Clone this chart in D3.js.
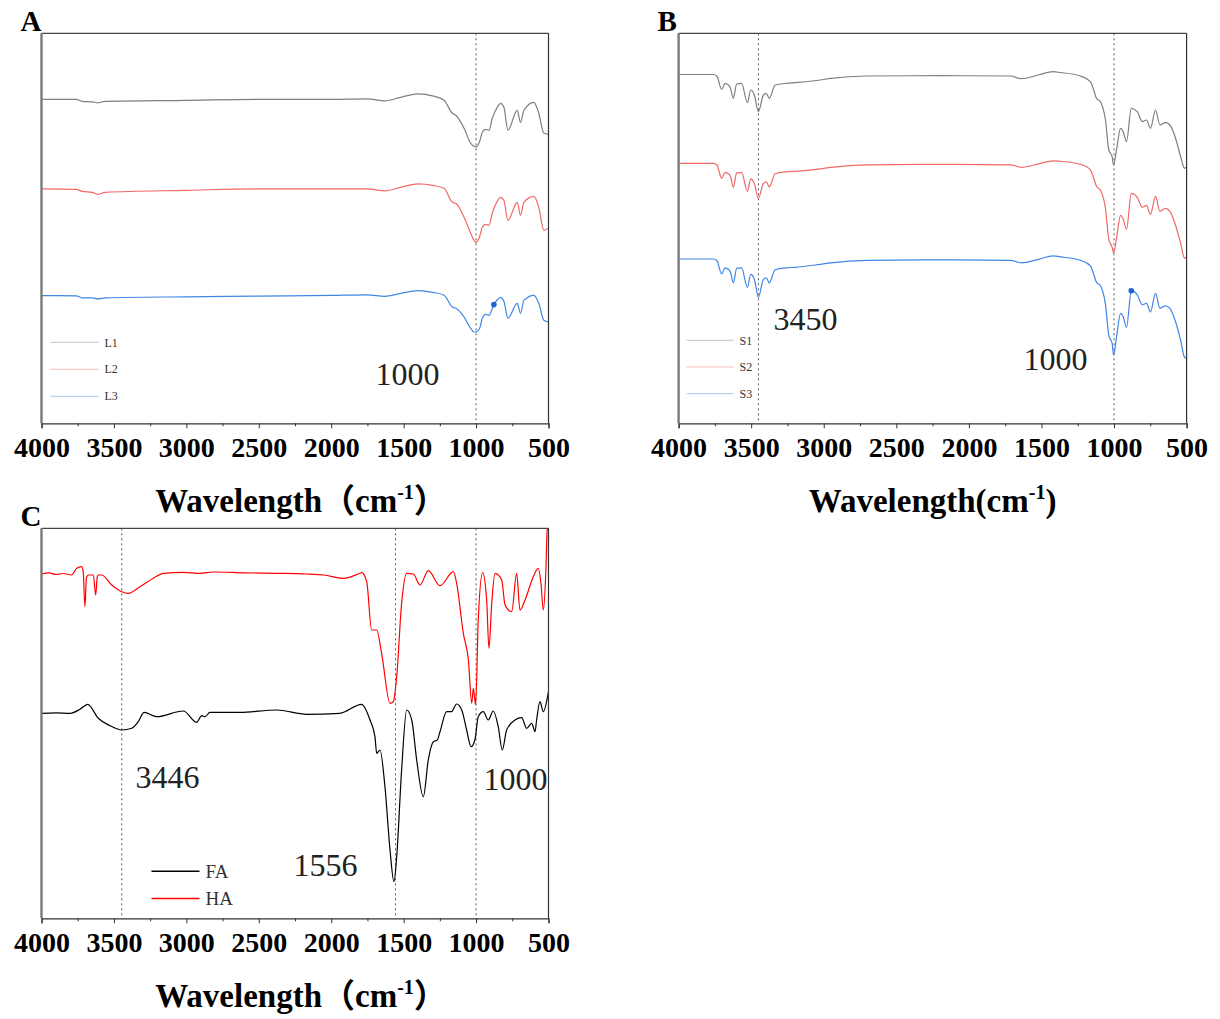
<!DOCTYPE html>
<html>
<head>
<meta charset="utf-8">
<script src="https://cdn.jsdelivr.net/npm/d3@7"></script>
<style>
  body { margin: 0; background: #fff; }
  svg { display: block; }
</style>
</head>
<body>
<div id="chart"></div>
<script>
// FTIR spectra, wavenumber (cm-1) vs. transmittance (a.u.)
var svgWidth = 1220;
var svgHeight = 1019;

// ---- data: [wavenumber, intensity a.u.] ----
var wnTicks = [4000, 3500, 3000, 2500, 2000, 1500, 1000, 500];
var wnMinor = [3750, 3250, 2750, 2250, 1750, 1250, 750];

var L1 = [[4000,324],[3760,324],[3720,322],[3650,321.5],[3610,320.5],[3560,322],[3000,323],[2500,324],
  [2000,324],[1750,324.5],[1630,322.5],[1520,326],[1400,329.5],[1300,327.5],[1221,323],[1164,310],[1140,308],
  [1083,295],[1037,280],[1014,277],[998,276.5],[975,282],[957,291],[935,294],[911,293],[888,305],[850,317],
  [831,320],[808,316],[780,293],[716,313],[693,301],[670,313],[601,321],[567,310],[532,290],[500,289]];
var L2 = [[4000,234.5],[3760,234],[3720,232],[3650,231],[3610,229],[3560,231],[3000,233],[2500,234.5],
  [2000,234.5],[1750,234.5],[1630,232.5],[1520,236],[1400,239.5],[1300,238],[1221,235],[1164,221],[1140,220],
  [1083,206],[1037,190],[1014,183],[998,181],[975,187],[957,196],[935,199],[911,198],[888,210],[850,223],
  [831,226],[808,223],[780,203],[716,221],[693,208],[670,221],[601,227],[567,216],[532,193],[500,195]];
var L3 = [[4000,127.7],[3760,127.5],[3720,125.5],[3650,125.5],[3610,124.5],[3560,125.5],[3000,126.5],[2500,127.2],
  [2000,128],[1750,128.5],[1630,127],[1520,130],[1400,132.7],[1300,131],[1221,128],[1164,116.3],[1140,115],
  [1083,106.3],[1037,95],[1014,91.3],[998,91.5],[975,95],[957,105],[935,109],[911,108],[877,118.7],[850,124],
  [831,126],[808,122],[780,105],[716,120],[693,110],[670,123],[601,128],[567,120],[532,103],[500,101.3]];
var markA = [[877, 118.7]];

var S1 = [[4000,348.8],[3760,348.8],[3737,347.3],[3703,334],[3680,340],[3646,336.6],[3623,325],[3600,339.3],
  [3566,340],[3526,320.6],[3503,333.3],[3478,328.3],[3450,311.6],[3416,328.3],[3397,330],[3375,325],[3335,338.3],
  [3255,340],[3198,340.6],[3025,343.3],[2950,345],[2703,347.3],[2208,347.6],[1713,347.3],[1640,344.6],[1520,348.3],
  [1420,351.6],[1370,350.8],[1232,347.3],[1163,341.6],[1140,333.3],[1121,325],[1094,321.6],[1059,303.3],
  [1036,273.3],[1013,266.6],[1003,258.3],[983,273.3],[955,295],[937,291.6],[914,281.6],[881,315],[840,311.6],
  [805,301.6],[776,303.3],[749,295],[714,313.3],[684,298.3],[645,300.6],[615,298.3],[576,285],[541,266.6],
  [514,255],[500,256.6]];
var S2 = [[4000,260],[3760,260],[3737,258.5],[3703,245],[3680,251],[3646,248],[3623,236],[3600,250.5],
  [3566,251],[3526,232],[3503,244.5],[3478,239.5],[3450,225],[3416,240],[3397,241.5],[3375,236.5],[3335,249.5],
  [3255,251.5],[3198,252],[3025,254.5],[2950,256],[2703,258.5],[2208,259],[1713,258.5],[1640,256],[1520,259.5],
  [1420,262.5],[1370,262],[1232,259],[1163,253.5],[1140,245],[1121,237],[1094,233],[1059,215],
  [1036,184],[1013,176],[1003,170],[983,185],[955,208],[937,204],[914,194],[881,230],[840,226],
  [805,216],[776,218],[749,209],[714,227],[684,212],[645,215],[615,212],[576,198],[541,180],
  [514,165],[500,167]];
var S3 = [[4000,164.3],[3760,164.3],[3737,162.8],[3703,149.5],[3680,155.5],[3646,152.5],[3623,140.5],[3600,155],
  [3566,155.5],[3526,136],[3503,149],[3478,144],[3450,126],[3416,144],[3397,145.5],[3375,140.5],[3335,153.5],
  [3255,155.5],[3198,156],[3025,159],[2950,160.5],[2703,163],[2208,163.5],[1713,163],[1640,160.5],[1520,164],
  [1420,167.5],[1370,166.5],[1232,163],[1163,157.5],[1140,149],[1121,141],[1094,137.5],[1059,119],
  [1036,88],[1013,80],[1003,68.3],[983,86],[955,110],[937,106.5],[914,96],[881,132.6],[840,128.5],
  [805,118.5],[776,120],[749,111.5],[714,130],[684,115],[645,117.5],[615,115],[576,101.5],[541,83],
  [514,66],[500,65]];
var markB = [[881, 132.6]];

var HA = [[4000,344.3],[3950,345.5],[3900,343.8],[3850,344.8],[3792,343.3],[3757,350],[3723,351.6],[3712,346.3],
  [3700,311.6],[3690,340.3],[3677,343.3],[3642,343.3],[3626,323.3],[3615,341.3],[3608,343.3],[3585,343.3],
  [3515,333.3],[3446,326.6],[3400,325],[3320,331.6],[3228,340],[3159,345],[3021,346],[2906,345],[2814,346.3],
  [2600,345.5],[2400,345],[2169,344.3],[2050,343.3],[1917,340],[1802,345],[1790,345.6],[1755,336.6],[1721,288.3],
  [1686,288.3],[1652,265],[1594,215],[1571,216.6],[1548,241.6],[1514,315],[1479,345],[1433,344.3],[1387,333.3],
  [1330,347.6],[1249,332.6],[1157,346.6],[1134,335],[1088,285],[1053,258.3],[1030,215],[1019,230],[1003,213.3],
  [985,298.3],[955,345.6],[927,318.3],[911,270],[892,315],[869,345],[823,338.3],[800,313.3],[754,306.6],
  [720,345],[697,308.3],[662,318.3],[605,341.6],[571,350],[552,335],[536,308.3],[518,348.3],[509,388.3],[500,390]];
var FA = [[4000,205],[3900,205.5],[3803,205],[3734,209],[3681,214],[3608,200],[3527,192.6],[3446,188.3],
  [3377,190],[3332,196.6],[3292,206],[3205,201.6],[3021,207.3],[2929,196],[2894,202.6],[2871,201.6],[2837,206],
  [2630,206],[2377,208.3],[2169,204],[1940,205],[1790,214],[1732,198.3],[1698,181.6],[1686,165],[1663,168.3],
  [1629,131.6],[1594,68.3],[1567,36.6],[1548,61.6],[1514,148.3],[1479,208.3],[1444,198.3],[1410,158.3],
  [1364,121.6],[1330,158.3],[1295,176.6],[1268,178.3],[1249,186.6],[1203,206.6],[1169,206.6],[1134,214.3],
  [1099,208.3],[1065,188.3],[1035,171.6],[1008,178.3],[985,201.6],[950,206.6],[916,198.3],[881,207.3],
  [847,191.6],[819,168.3],[789,188.3],[731,198.3],[685,200.6],[651,190],[616,195],[593,186.6],[582,198.3],
  [559,216.6],[536,206.6],[500,226.6]];

var serif = "'Liberation Serif', 'Times New Roman', 'Noto Sans CJK SC', serif";

var panels = [
  { id: "A", x: 41.5, y: 33.3, w: 507, h: 390, fullParen: true,
    series: [
      { name: "L1", data: L1, color: "#7f7f7f" },
      { name: "L2", data: L2, color: "#f06868" },
      { name: "L3", data: L3, color: "#3f86e6" }],
    marks: markA,
    vlines: [1000],
    notes: [{ t: "1000", x: 334, y: 352 }],
    legend: { x: 9, y: 309, dy: 27, len: 48, size: 12, light: true } },
  { id: "B", x: 678.6, y: 33.3, w: 508, h: 390, fullParen: false,
    series: [
      { name: "S1", data: S1, color: "#7f7f7f" },
      { name: "S2", data: S2, color: "#f06868" },
      { name: "S3", data: S3, color: "#3f86e6" }],
    marks: markB,
    vlines: [3450, 1000],
    notes: [{ t: "3450", x: 95, y: 297 }, { t: "1000", x: 345, y: 337 }],
    legend: { x: 8, y: 307, dy: 26.7, len: 47, size: 12, light: true } },
  { id: "C", x: 41.5, y: 528.3, w: 507, h: 390, fullParen: true,
    series: [
      { name: "FA", data: FA, color: "#000000" },
      { name: "HA", data: HA, color: "#ff0000" }],
    marks: [],
    vlines: [3446, 1556, 1000],
    notes: [{ t: "3446", x: 94, y: 260 }, { t: "1556", x: 252, y: 348 }, { t: "1000", x: 442, y: 262 }],
    legend: { x: 110, y: 343, dy: 27.3, len: 48, size: 19, light: false } }
];

var svg = d3.select("#chart")
  .append("svg")
  .attr("width", svgWidth)
  .attr("height", svgHeight);

panels.forEach(function(p) {
  var g = svg.append("g").attr("transform", `translate(${p.x}, ${p.y})`);

  var xScale = d3.scaleLinear().domain([4000, 500]).range([0, p.w]);
  var yScale = d3.scaleLinear().domain([0, 390]).range([p.h, 0]);

  // dotted reference lines
  g.selectAll(".vline")
    .data(p.vlines)
    .enter()
    .append("line")
    .attr("x1", d => xScale(d))
    .attr("x2", d => xScale(d))
    .attr("y1", 0)
    .attr("y2", p.h)
    .attr("stroke", "#555")
    .attr("stroke-width", 1)
    .attr("stroke-dasharray", "2,3");

  // spectra
  var line = d3.line()
    .x(d => xScale(d[0]))
    .y(d => yScale(d[1]))
    .curve(d3.curveMonotoneX);

  p.series.forEach(function(s) {
    g.append("path")
      .datum(s.data)
      .attr("fill", "none")
      .attr("stroke", s.color)
      .attr("stroke-width", 1.2)
      .attr("stroke-linejoin", "round")
      .attr("d", line);
  });

  g.selectAll(".mark")
    .data(p.marks)
    .enter()
    .append("circle")
    .attr("cx", d => xScale(d[0]))
    .attr("cy", d => yScale(d[1]))
    .attr("r", 2.8)
    .attr("fill", "#1f62d6");

  // frame: left thicker gray, others thin
  g.append("line").attr("x1", 0).attr("x2", p.w).attr("y1", 0).attr("y2", 0)
    .attr("stroke", "#444").attr("stroke-width", 1.2);
  g.append("line").attr("x1", p.w).attr("x2", p.w).attr("y1", 0).attr("y2", p.h)
    .attr("stroke", "#333").attr("stroke-width", 1.2);
  g.append("line").attr("x1", 0).attr("x2", 0).attr("y1", 0).attr("y2", p.h)
    .attr("stroke", "#7a7a7a").attr("stroke-width", 2.4);

  // x axis
  var axis = d3.axisBottom(xScale)
    .tickValues(wnTicks)
    .tickSize(5)
    .tickFormat(d3.format("d"));
  var ax = g.append("g")
    .attr("transform", `translate(0, ${p.h})`)
    .call(axis);
  ax.select(".domain").attr("stroke", "#333").attr("stroke-width", 1.2);
  ax.selectAll(".tick line").attr("stroke", "#333");
  ax.selectAll("text")
    .attr("y", 33.5)
    .attr("dy", 0)
    .attr("fill", "#000")
    .style("font-family", serif)
    .style("font-weight", "bold")
    .style("font-size", "28px");

  var minorAxis = d3.axisBottom(xScale)
    .tickValues(wnMinor)
    .tickSize(3)
    .tickFormat("");
  var mx = g.append("g")
    .attr("transform", `translate(0, ${p.h})`)
    .call(minorAxis);
  mx.select(".domain").remove();
  mx.selectAll(".tick line").attr("stroke", "#333");

  // axis title
  var title = g.append("text")
    .attr("x", p.w / 2 + (p.fullParen ? 6 : 0))
    .attr("y", p.h + 89)
    .attr("text-anchor", "middle")
    .style("font-family", serif)
    .style("font-weight", "bold")
    .style("font-size", "33px")
    .attr("fill", "#000");
  title.append("tspan").text(p.fullParen ? "Wavelength\uFF08cm" : "Wavelength(cm");
  title.append("tspan").attr("dy", -13).style("font-size", "20px").text("-1");
  title.append("tspan").attr("dy", 13).text(p.fullParen ? "\uFF09" : ")");

  // panel letter
  svg.append("text")
    .attr("x", p.x - 21)
    .attr("y", p.y - 2)
    .style("font-family", serif)
    .style("font-weight", "bold")
    .style("font-size", "29px")
    .attr("fill", "#000")
    .text(p.id);

  // peak annotations
  g.selectAll(".note")
    .data(p.notes)
    .enter()
    .append("text")
    .attr("x", d => d.x)
    .attr("y", d => d.y)
    .style("font-family", serif)
    .style("font-size", "32px")
    .attr("fill", "#222")
    .text(d => d.t);

  // legend
  var lg = g.append("g").attr("transform", `translate(${p.legend.x}, ${p.legend.y})`);
  p.series.forEach(function(s, i) {
    var yy = i * p.legend.dy;
    lg.append("line")
      .attr("x1", 0).attr("x2", p.legend.len)
      .attr("y1", yy).attr("y2", yy)
      .attr("stroke", s.color)
      .attr("stroke-width", p.legend.light ? 1 : 1.5)
      .attr("stroke-opacity", p.legend.light ? 0.45 : 1);
    lg.append("text")
      .attr("x", p.legend.len + 6)
      .attr("y", yy)
      .attr("dy", "0.35em")
      .style("font-family", serif)
      .style("font-size", p.legend.size + "px")
      .attr("fill", "#333")
      .text(s.name);
  });
});
</script>
</body>
</html>
